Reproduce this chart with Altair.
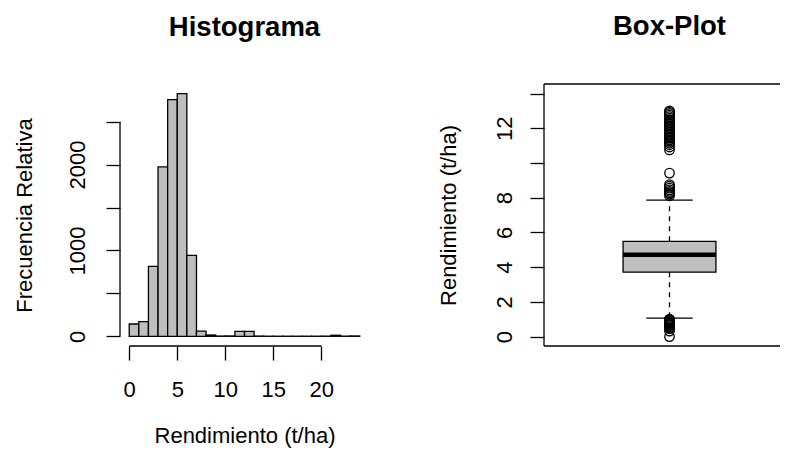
import altair as alt
import pandas as pd

# ---------------- data ----------------
# Histogram (bins of width 1 t/ha)
bin_starts = list(range(0, 24))
bin_counts = [143, 171, 814, 1973, 2756, 2826, 942, 60, 15, 3, 4, 58, 58,
              3, 1, 1, 1, 1, 1, 1, 2, 12, 2, 4]
hist_x_ticks = [0, 5, 10, 15, 20]
hist_y_ticks = [0, 500, 1000, 1500, 2000, 2500]
hist_y_labels = [0, 1000, 2000]

# Box plot summary
box_lower = 1.06
box_q1 = 3.71
box_median = 4.71
box_q3 = 5.49
box_upper = 7.86
outliers_low = [0.0, 0.32, 0.45, 0.52, 0.58, 0.63, 0.68, 0.72, 0.77, 0.81,
                0.85, 0.89, 0.93, 0.97, 1.01]
outliers_mid = [8.12, 8.2, 8.28, 8.36, 8.45, 8.55, 8.66, 8.76, 9.42]
outliers_high = [10.75, 10.92, 11.05, 11.15, 11.24, 11.33, 11.42, 11.5, 11.6,
                 11.68, 11.77, 11.86, 11.95, 12.04, 12.13, 12.22, 12.31, 12.4,
                 12.49, 12.58, 12.67, 12.76, 12.85, 12.93, 13.0]
box_y_ticks = [0, 2, 4, 6, 8, 10, 12, 14]
box_y_labels = [0, 2, 4, 6, 8, 12]

# ---------------- style ----------------
FONT = "Liberation Sans"
FS = 22
GRAY = "#BEBEBE"
LW = 1.3
W_H, W_B, H = 249, 251, 262

def label_expr(vals):
    return "indexof([" + ",".join(str(v) for v in vals) + "], datum.value) >= 0 ? datum.label : ''"

# ---------------- histogram ----------------
hist_df = pd.DataFrame({"start": bin_starts,
                        "end": [s + 1 for s in bin_starts],
                        "count": bin_counts})
xh_scale = alt.Scale(domain=[-0.96, 24.96], nice=False, zero=False)
yh_scale = alt.Scale(domain=[-0.04 * max(bin_counts), 1.04 * max(bin_counts)], nice=False, zero=False)

xh_axis = alt.Axis(values=hist_x_ticks, format="d", title="Rendimiento (t/ha)",
                   tickSize=14, labelPadding=36, labelBaseline="alphabetic",
                   titleY=96, titleBaseline="alphabetic", titleAnchor="middle")
yh_axis = alt.Axis(values=hist_y_ticks, format="d", labelExpr=label_expr(hist_y_labels),
                   title="Frecuencia Relativa", tickSize=14, labelPadding=22,
                   labelAngle=270, labelAlign="center", labelBaseline="alphabetic",
                   titleAngle=270, titleAlign="center", titleBaseline="alphabetic",
                   titleX=-88.5, titleY=H / 2)

def hx(field):
    return alt.X(field, type="quantitative", scale=xh_scale, axis=xh_axis)

def hy(field):
    return alt.Y(field, type="quantitative", scale=yh_scale, axis=yh_axis)

bars = alt.Chart(hist_df).mark_rect(fill=GRAY, stroke="black", strokeWidth=LW).encode(
    x=hx("start"), x2="end", y=hy("count"), y2=alt.datum(0)
)
xline_df = pd.DataFrame({"start": [hist_x_ticks[0]], "end": [hist_x_ticks[-1]]})
xline = alt.Chart(xline_df).mark_rule(color="black", strokeWidth=LW).encode(
    x=hx("start"), x2="end", y=alt.value(H)
)
yline_df = pd.DataFrame({"count": [hist_y_ticks[0]], "top": [hist_y_ticks[-1]]})
yline = alt.Chart(yline_df).mark_rule(color="black", strokeWidth=LW).encode(
    y=hy("count"), y2="top", x=alt.value(0)
)
hist = alt.layer(bars, xline, yline).properties(
    width=W_H, height=H, title=alt.Title("Histograma"),
    view=alt.ViewBackground(stroke="transparent")
)

# ---------------- box plot ----------------
xb_scale = alt.Scale(domain=[0.5, 1.5], nice=False, zero=False)
yb_scale = alt.Scale(domain=[-0.54, 14.55], nice=False, zero=False)
yb_axis = alt.Axis(values=box_y_ticks, format="d", labelExpr=label_expr(box_y_labels),
                   title="Rendimiento (t/ha)", tickSize=14, labelPadding=19,
                   labelAngle=270, labelAlign="center", labelBaseline="alphabetic",
                   titleAngle=270, titleAlign="center", titleBaseline="alphabetic",
                   titleX=-88.5, titleY=H / 2)

def bx(field):
    return alt.X(field, type="quantitative", scale=xb_scale, axis=None)

def by(field):
    return alt.Y(field, type="quantitative", scale=yb_scale, axis=yb_axis)

CENTER, BOX_HALF, STAPLE_HALF = 1.0, 0.185, 0.0925

# frame (box()) : top, bottom and left sides; right side falls outside the page
frame_df = pd.DataFrame({"x": [CENTER]})
frame_top = alt.Chart(frame_df).mark_rule(color="black", strokeWidth=LW).encode(
    x=alt.value(0), x2=alt.value(W_B + 20), y=alt.value(0))
frame_bot = alt.Chart(frame_df).mark_rule(color="black", strokeWidth=LW).encode(
    x=alt.value(0), x2=alt.value(W_B + 20), y=alt.value(H))
frame_left = alt.Chart(frame_df).mark_rule(color="black", strokeWidth=LW).encode(
    x=alt.value(0), y=alt.value(0), y2=alt.value(H))

whisk_df = pd.DataFrame({"x": [CENTER, CENTER], "y": [box_q3, box_q1], "y2": [box_upper, box_lower]})
whiskers = alt.Chart(whisk_df).mark_rule(color="black", strokeWidth=LW, strokeDash=[5, 5]).encode(
    x=bx("x"), y=by("y"), y2="y2"
)
staple_df = pd.DataFrame({"x": [CENTER - STAPLE_HALF] * 2, "x2": [CENTER + STAPLE_HALF] * 2,
                          "y": [box_upper, box_lower]})
staples = alt.Chart(staple_df).mark_rule(color="black", strokeWidth=LW).encode(
    x=bx("x"), x2="x2", y=by("y")
)
boxr_df = pd.DataFrame({"x": [CENTER - BOX_HALF], "x2": [CENTER + BOX_HALF],
                        "y": [box_q1], "y2": [box_q3]})
boxr = alt.Chart(boxr_df).mark_rect(fill=GRAY, stroke="black", strokeWidth=LW).encode(
    x=bx("x"), x2="x2", y=by("y"), y2="y2"
)
med_df = pd.DataFrame({"x": [CENTER - BOX_HALF], "x2": [CENTER + BOX_HALF], "y": [box_median]})
med = alt.Chart(med_df).mark_rule(color="black", strokeWidth=4.5).encode(
    x=bx("x"), x2="x2", y=by("y")
)
out_vals = outliers_low + outliers_mid + outliers_high
out_df = pd.DataFrame({"x": [CENTER] * len(out_vals), "y": out_vals})
outs = alt.Chart(out_df).mark_point(shape="circle", filled=False, color="black",
                                    size=90, strokeWidth=1.3, opacity=1).encode(
    x=bx("x"), y=by("y")
)
box = alt.layer(whiskers, staples, boxr, med, outs, frame_top, frame_bot, frame_left).properties(
    width=W_B, height=H, title=alt.Title("Box-Plot"),
    view=alt.ViewBackground(stroke="transparent")
)

chart = alt.hconcat(hist, box, spacing=175, bounds="flush").properties(
    autosize=alt.AutoSizeParams(type="none"),
    padding={"left": 112, "top": 76, "right": 660, "bottom": 364},
).configure(font=FONT).configure_axis(
    labelFont=FONT, labelFontSize=FS, labelColor="black",
    titleFont=FONT, titleFontSize=FS, titleColor="black", titleFontWeight="normal",
    tickColor="black", tickWidth=LW, grid=False, domain=False,
    labelFlush=False, labelOverlap=False, labelBound=False
).configure_title(
    font=FONT, fontSize=27.5, fontWeight="bold", color="black",
    anchor="middle", baseline="alphabetic", offset=43, frame="group"
)

chart.save("out.html", embed_options={"renderer": "svg", "actions": False})
